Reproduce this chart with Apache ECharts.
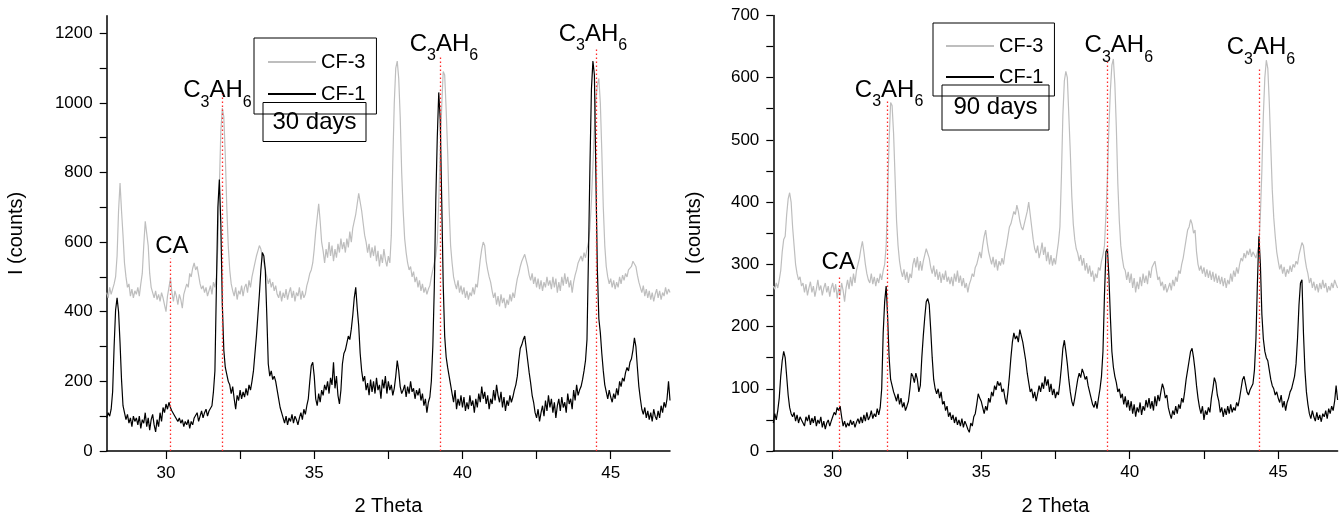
<!DOCTYPE html>
<html>
<head>
<meta charset="utf-8">
<title>XRD CF-1 / CF-3, 30 and 90 days</title>
<script src="https://cdn.jsdelivr.net/npm/echarts@6.0.0/dist/echarts.min.js"></script>
<style>
  html, body { margin: 0; padding: 0; background: #fff; }
  #chart { width: 1340px; height: 521px; }
</style>
</head>
<body>
<div id="chart"></div>
<script>
// 2 theta scan, 28..47 deg, read every 0.05 deg
var THETA_MIN = 28;
var THETA_STEP = 0.05;

// ---- 30 days ----
var cf3_30 = [
  455,440,470,450,465,480,500,560,690,770,690,620,540,500,470,480,445,465,440,460,
  450,470,445,480,510,590,660,665,590,510,470,455,440,460,435,450,430,455,440,420,
  400,445,470,495,455,430,460,445,420,450,435,410,450,465,480,470,510,500,525,540,
  520,530,505,480,465,475,455,470,445,460,475,450,485,470,500,590,760,920,985,960,
  850,700,590,520,480,460,445,470,435,460,450,475,445,470,480,455,490,470,500,520,
  540,560,575,590,580,560,540,520,500,480,495,470,485,460,475,450,440,460,430,455,
  440,465,435,455,470,440,460,430,455,445,470,435,460,440,450,475,490,510,520,540,
  580,630,670,710,660,600,575,540,580,555,600,560,590,545,580,555,595,570,610,580,
  600,570,610,585,630,600,640,660,680,710,740,745,690,655,620,600,570,595,555,585,
  560,590,545,575,530,565,540,580,550,530,560,540,620,830,1000,1100,1120,1070,960,800,
  690,610,570,540,520,530,500,515,485,500,470,490,460,480,455,470,450,465,475,500,
  520,540,560,600,720,860,990,1090,1080,980,860,700,590,540,500,480,465,490,455,475,
  450,470,440,460,435,455,445,470,450,480,470,510,550,580,600,590,545,520,500,485,
  460,440,455,420,445,415,450,425,440,410,435,420,450,430,455,440,470,495,510,530,
  545,555,565,560,530,505,490,510,480,500,470,495,465,490,460,485,470,500,475,490,
  465,500,470,495,455,485,460,500,475,510,480,500,470,490,455,485,505,520,540,550,
  560,545,570,555,580,600,640,720,820,930,1010,1050,1070,1000,860,700,590,530,500,480,
  495,470,490,465,485,470,500,480,505,490,510,500,520,515,530,545,550,530,505,485,
  470,455,475,445,465,440,460,435,455,430,450,465,440,460,435,455,445,470,450,465,
  455
];
var cf1_30 = [
  95,110,100,120,170,300,405,440,400,310,205,130,110,90,105,80,95,70,100,85,
  95,75,100,65,90,80,110,70,95,60,90,105,75,55,90,70,110,85,125,110,
  135,120,140,125,115,120,100,105,85,95,80,90,70,85,75,90,65,85,75,95,
  90,110,85,100,115,95,110,120,100,115,110,130,170,230,470,700,780,650,420,290,
  240,220,200,190,165,185,150,120,160,145,175,150,170,155,180,160,190,175,200,230,
  280,330,390,450,520,570,560,520,390,250,215,230,205,215,200,175,150,125,110,95,
  80,100,75,95,85,105,80,100,90,75,95,110,90,120,105,130,150,200,245,255,
  215,150,130,165,140,175,160,190,175,200,165,210,190,255,180,215,160,135,175,250,
  280,290,310,330,320,350,390,440,470,410,360,280,230,200,215,175,195,160,205,170,
  200,165,210,175,190,150,205,180,215,165,200,175,190,160,180,215,260,230,185,165,
  175,190,155,185,165,200,170,180,150,175,160,180,145,165,130,150,110,140,155,200,
  300,470,720,900,1030,950,720,480,330,270,240,215,190,165,140,175,120,150,130,160,
  125,155,115,140,120,160,130,145,110,150,125,165,140,185,150,170,135,160,120,150,
  135,175,145,190,160,140,170,125,155,115,145,130,160,140,155,175,190,215,260,295,
  305,320,330,295,260,225,195,160,140,110,95,120,85,110,130,100,145,115,160,125,
  150,110,140,95,130,150,115,155,125,140,110,165,135,150,120,175,145,190,160,175,
  185,205,230,260,320,560,820,1040,1120,1080,790,520,380,340,280,230,190,170,150,175,
  155,140,165,150,180,160,200,185,210,200,225,240,230,255,265,290,325,300,240,185,
  150,120,105,125,95,115,90,110,85,120,100,90,115,95,130,110,140,125,150,200,
  145
];

// ---- 90 days ----
var cf3_90 = [
  265,260,270,262,275,290,320,340,345,380,405,415,400,360,330,300,285,275,280,265,
  270,255,268,250,262,272,255,265,248,260,275,258,266,250,262,270,255,265,248,262,
  270,255,268,245,262,250,270,258,240,262,275,260,280,265,285,270,290,300,310,325,
  337,320,300,285,275,270,285,268,280,265,278,270,285,275,290,300,330,410,500,560,
  555,510,440,370,330,305,290,280,292,275,288,270,285,278,300,310,295,312,290,305,
  290,305,315,325,322,310,295,285,298,280,292,275,288,270,285,275,290,272,280,268,
  280,265,285,272,290,270,282,265,278,262,270,255,268,275,285,280,295,300,310,320,
  310,330,345,355,335,320,310,300,312,295,308,290,305,298,310,300,318,330,345,360,
  365,375,385,380,395,385,370,360,355,365,375,385,400,380,360,340,325,318,330,310,
  320,335,315,328,305,320,300,315,298,310,300,318,335,360,440,540,595,610,600,540,
  480,410,365,340,325,318,305,315,298,310,290,302,285,298,280,290,272,285,278,295,
  290,305,315,330,380,440,520,580,620,630,590,520,430,370,330,310,295,290,275,288,
  270,285,262,278,255,272,260,280,265,285,270,282,268,290,278,295,300,305,290,275,
  280,265,272,258,268,255,262,270,258,275,265,280,272,290,285,300,310,325,340,355,
  360,372,365,350,355,320,300,290,298,285,295,280,292,278,290,275,288,272,285,270,
  282,268,280,265,278,262,275,268,285,272,290,280,295,285,300,310,305,318,310,322,
  315,325,312,320,318,310,320,330,380,450,540,600,628,615,560,490,420,375,345,320,
  305,292,300,285,296,280,292,285,298,288,300,295,305,300,315,325,335,330,310,295,
  285,270,278,262,272,258,268,255,270,260,275,262,270,255,265,258,270,262,275,268,
  262
];
var cf1_90 = [
  45,60,50,65,85,120,145,160,150,120,90,70,60,55,62,48,58,45,55,50,
  52,40,55,48,58,42,53,45,56,40,50,44,55,38,48,35,45,50,40,48,
  55,62,58,70,65,72,55,40,48,38,45,40,50,42,48,38,46,52,44,55,
  45,58,48,62,50,55,65,52,60,55,68,58,70,100,190,240,265,215,150,115,
  105,95,88,80,92,75,85,70,78,65,72,80,100,125,120,110,125,115,95,105,
  150,185,215,240,245,235,195,150,115,100,92,100,85,95,75,80,65,72,55,62,
  50,58,45,55,42,50,40,52,38,48,42,35,30,45,40,55,60,75,92,85,
  80,70,60,72,65,85,78,95,88,105,98,112,105,110,95,100,85,75,95,120,
  150,175,190,180,185,175,195,185,175,160,145,125,110,95,100,85,95,80,92,105,
  95,110,100,120,105,115,95,108,90,100,85,95,90,110,135,165,178,160,140,115,
  95,80,72,85,100,115,125,118,132,125,115,120,105,95,85,75,70,80,68,85,
  100,120,160,250,320,325,280,215,160,135,120,110,95,100,85,92,75,88,70,82,
  65,80,60,75,55,70,62,78,58,72,65,82,70,85,68,80,65,88,72,90,
  80,95,108,100,85,90,70,60,52,65,58,72,60,75,68,85,78,95,115,130,
  145,160,165,150,130,105,85,70,60,72,50,65,58,70,62,85,100,118,110,90,
  80,62,70,55,68,58,72,60,75,62,70,65,78,72,85,100,115,120,108,95,
  90,98,95,108,130,180,270,345,300,220,180,160,150,145,130,115,105,100,90,95,
  85,78,90,70,80,65,78,85,95,100,110,120,140,180,235,270,275,190,130,95,
  75,60,52,65,55,48,62,50,58,47,60,55,65,52,68,60,72,65,80,105,
  82
];

// ticks / labels
var xTicks = [30, 32.5, 35, 37.5, 40, 42.5, 45];
var xLabels = [30, 35, 40, 45];
var yTicks30 = [0, 100, 200, 300, 400, 500, 600, 700, 800, 900, 1000, 1100, 1200];
var yLabels30 = [0, 200, 400, 600, 800, 1000, 1200];
var yTicks90 = [0, 50, 100, 150, 200, 250, 300, 350, 400, 450, 500, 550, 600, 650, 700];
var yLabels90 = [0, 100, 200, 300, 400, 500, 600, 700];

// peak markers: 2theta, top of dotted line (counts), text
var marks30 = [30.13, 31.9, 39.24, 44.5];
var markTop30 = [553, 1025, 1130, 1155];
var marks90 = [30.22, 31.85, 39.23, 44.35];
var markTop90 = [279, 564, 625, 615];
var markText = ['CA', 'C3AH6', 'C3AH6', 'C3AH6'];

var theta = cf1_30.map(function (v, i) { return +(THETA_MIN + i * THETA_STEP).toFixed(2); });
[cf3_30, cf1_30, cf3_90, cf1_90].forEach(function (a) {
  if (a.length !== theta.length) throw new Error('series length ' + a.length);
});

var FONT = 'Liberation Sans';
var GRAY = '#bebebe';

function pairs(vals) {
  return vals.map(function (v, i) { return [theta[i], v]; });
}

function plain(v) {
  return String(v);
}

function xAxisFor(idx, labelMargin) {
  return {
    gridIndex: idx,
    type: 'value',
    min: 28,
    max: 47,
    name: '2 Theta',
    nameLocation: 'middle',
    nameGap: 45,
    nameTextStyle: { fontSize: 20, color: '#000', fontFamily: FONT },
    axisLine: { onZero: false, lineStyle: { color: '#000', width: 1.5 } },
    axisTick: { show: true, length: 8, customValues: xTicks, lineStyle: { color: '#000', width: 1.2 } },
    axisLabel: { customValues: xLabels, formatter: plain, margin: labelMargin, fontSize: 17, color: '#000', fontFamily: FONT },
    splitLine: { show: false }
  };
}

function yAxisFor(idx, max, ticks, labels, gap) {
  return {
    gridIndex: idx,
    type: 'value',
    min: 0,
    max: max,
    name: 'I (counts)',
    nameLocation: 'middle',
    nameGap: gap,
    nameTextStyle: { fontSize: 20, color: '#000', fontFamily: FONT },
    axisLine: { show: true, onZero: false, lineStyle: { color: '#000', width: 1.5 } },
    axisTick: { show: true, length: 7, customValues: ticks, lineStyle: { color: '#000', width: 1.2 } },
    axisLabel: { customValues: labels, formatter: plain, margin: 14, fontSize: 17, color: '#000', fontFamily: FONT },
    splitLine: { show: false }
  };
}

function markLines(marks, tops) {
  return {
    silent: true,
    symbol: ['none', 'none'],
    animation: false,
    label: { show: false },
    emphasis: { disabled: true },
    lineStyle: { color: '#ff2a2a', type: [1.5, 2.5], width: 1.3 },
    data: marks.map(function (t, i) {
      return [{ coord: [t, 0] }, { coord: [t, tops[i]] }];
    })
  };
}

function lineSeries(name, idx, vals, color, withMarks) {
  var s = {
    name: name,
    type: 'line',
    xAxisIndex: idx,
    yAxisIndex: idx,
    data: pairs(vals),
    symbol: 'none',
    showSymbol: false,
    lineStyle: { color: color, width: 1.2 },
    itemStyle: { color: color },
    emphasis: { disabled: true }
  };
  if (withMarks) s.markLine = withMarks;
  return s;
}

function legendAt(left, top, padding, gap) {
  return {
    data: ['CF-3', 'CF-1'],
    orient: 'vertical',
    left: left,
    top: top,
    itemWidth: 48,
    itemHeight: 14,
    itemGap: gap,
    padding: padding,
    borderColor: '#000',
    borderWidth: 1,
    selectedMode: false,
    // plain line sample, no marker dot
    itemStyle: { opacity: 0 },
    lineStyle: { opacity: 1 },
    textStyle: { fontSize: 20, color: '#000', fontFamily: FONT }
  };
}

function daysBox(text, left, top, padding) {
  return {
    text: text,
    left: left,
    top: top,
    padding: padding,
    borderColor: '#000',
    borderWidth: 1,
    textStyle: { fontSize: 24, fontWeight: 'normal', color: '#000', fontFamily: FONT, lineHeight: 24 }
  };
}

var chart = echarts.init(document.getElementById('chart'));
chart.setOption({
  animation: false,
  textStyle: { fontFamily: FONT },
  grid: [
    { left: 106.7, top: 15.8, width: 563.3, height: 437.5 },
    { left: 773.3, top: 15.4, width: 564.3, height: 436.3 }
  ],
  xAxis: [xAxisFor(0, 14), xAxisFor(1, 13)],
  yAxis: [
    yAxisFor(0, 1250, yTicks30, yLabels30, 80),
    yAxisFor(1, 700, yTicks90, yLabels90, 69)
  ],
  legend: [
    legendAt(254, 38, [14, 11, 10, 13], 12),
    legendAt(933, 23, [13, 11, 9, 12], 11)
  ],
  title: [
    daysBox('30 days', 263, 102, [8, 9.5, 8, 9.5]),
    daysBox('90 days', 942, 85, [10.5, 11.5, 10.5, 11.5])
  ],
  series: [
    lineSeries('CF-3', 0, cf3_30, GRAY),
    lineSeries('CF-1', 0, cf1_30, '#000', markLines(marks30, markTop30)),
    lineSeries('CF-3', 1, cf3_90, GRAY),
    lineSeries('CF-1', 1, cf1_90, '#000', markLines(marks90, markTop90))
  ]
});

// phase labels over the dotted lines, C3AH6 with subscripts
var measure = document.createElement('canvas').getContext('2d');
function textW(t, size) {
  measure.font = size + 'px "' + FONT + '"';
  return measure.measureText(t).width;
}
// [dx of text centre, dy of main baseline] relative to the line top, in px
var labelShift30 = [[2, -5], [-4.8, 4], [4, -6], [-3, -7]];
var labelShift90 = [[-1, -8], [1.4, -2], [12, -9], [2, -13]];

var elements = [];
function addLabel(gridIndex, t, top, text, shift) {
  var p = chart.convertToPixel({ gridIndex: gridIndex }, [t, top]);
  var cx = p[0] + shift[0];
  var base = p[1] + shift[1];
  var parts = text === 'CA'
    ? [['CA', false]]
    : [['C', false], ['3', true], ['AH', false], ['6', true]];
  var total = 0;
  parts.forEach(function (q) { total += textW(q[0], q[1] ? 16 : 24); });
  var x = cx - total / 2;
  parts.forEach(function (q) {
    var size = q[1] ? 16 : 24;
    elements.push({
      type: 'text',
      x: x,
      y: q[1] ? base + 9 - 0.31 * size : base - 0.31 * size,
      silent: true,
      style: {
        text: q[0],
        fontSize: size,
        fontFamily: FONT,
        fill: '#000',
        textAlign: 'left',
        textVerticalAlign: 'middle'
      }
    });
    x += textW(q[0], size);
  });
}
marks30.forEach(function (t, i) { addLabel(0, t, markTop30[i], markText[i], labelShift30[i]); });
marks90.forEach(function (t, i) { addLabel(1, t, markTop90[i], markText[i], labelShift90[i]); });
chart.setOption({ graphic: elements });
</script>
</body>
</html>
